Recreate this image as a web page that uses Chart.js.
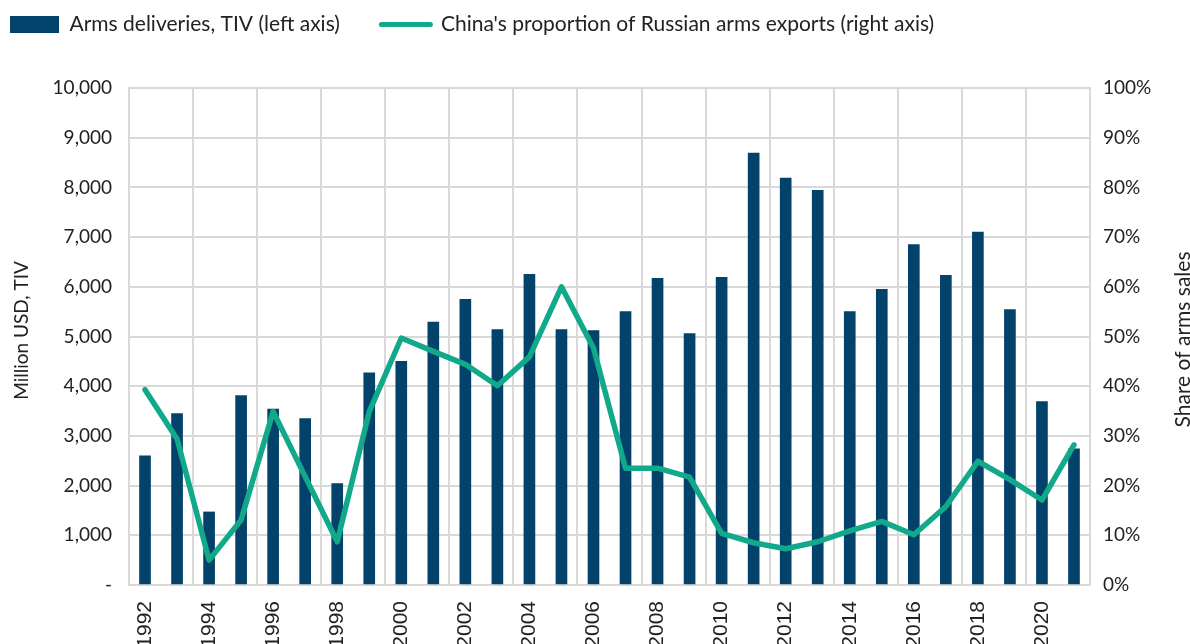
<!DOCTYPE html>
<html>
<head>
<meta charset="utf-8">
<script src="https://cdn.jsdelivr.net/npm/chart.js@4.4.0/dist/chart.umd.min.js"></script>
<style>
  html, body { margin: 0; padding: 0; background: #fff; overflow: hidden; }
  #wrap { position: absolute; left: 0; top: 0; width: 1190px; height: 660px; }
</style>
</head>
<body>
<div id="wrap"><canvas id="c"></canvas></div>
<script>
const YEARS = ['1992','1993','1994','1995','1996','1997','1998','1999','2000','2001','2002','2003','2004','2005','2006','2007','2008','2009','2010','2011','2012','2013','2014','2015','2016','2017','2018','2019','2020','2021'];
const DELIVERIES = [2600,3450,1470,3810,3540,3350,2040,4270,4500,5290,5750,5140,6250,5140,5120,5500,6170,5060,6190,8690,8190,7940,5500,5950,6850,6230,7100,5540,3690,2740];
const CHINA_SHARE = [39.3,29.4,5.0,13.1,34.9,21.8,8.7,34.9,49.7,47.0,44.4,40.1,45.9,60.0,47.7,23.5,23.5,21.7,10.4,8.5,7.3,8.7,10.9,12.8,10.1,15.8,24.9,21.2,17.1,28.2];
const LEGEND_LABELS = ['Arms deliveries, TIV (left axis)', "China's proportion of Russian arms exports (right axis)"];
const LEFT_TITLE = 'Million USD, TIV';
const RIGHT_TITLE = 'Share of arms sales';

const NAVY = '#03426a';
const TEAL = '#12a98b';
const GRID = '#d9d9d9';
const TXT = '#222222';
const SANS = 'Lato';

const titlesPlugin = {
  id: 'titles',
  beforeInit(chart) {
    const lg = chart.legend;
    if (lg) {
      const orig = lg.fit;
      lg.fit = function () { orig.call(this); this.height = 84; };
    }
  },
  afterDraw(chart) {
    const { ctx, chartArea } = chart;
    const midY = (chartArea.top + chartArea.bottom) / 2;
    ctx.save();
    ctx.font = '19px ' + SANS;
    ctx.fillStyle = TXT;
    ctx.textAlign = 'center';
    ctx.textBaseline = 'middle';
    ctx.translate(22, midY - 6);
    ctx.rotate(-Math.PI / 2);
    ctx.fillText(LEFT_TITLE, 0, 0);
    ctx.restore();
    ctx.save();
    ctx.font = '21px ' + SANS;
    ctx.fillStyle = TXT;
    ctx.textAlign = 'center';
    ctx.textBaseline = 'middle';
    ctx.translate(1183, midY + 3);
    ctx.rotate(-Math.PI / 2);
    ctx.fillText(RIGHT_TITLE, 0, 0);
    ctx.restore();
  }
};

function draw() {
  new Chart(document.getElementById('c'), {
    type: 'bar',
    data: {
      labels: YEARS,
      datasets: [
        {
          type: 'bar',
          label: LEGEND_LABELS[0],
          data: DELIVERIES,
          backgroundColor: NAVY,
          barThickness: 11,
          yAxisID: 'y',
          order: 1
        },
        {
          type: 'line',
          label: LEGEND_LABELS[1],
          data: CHINA_SHARE,
          borderColor: TEAL,
          backgroundColor: TEAL,
          borderWidth: 5.5,
          pointRadius: 0,
          tension: 0,
          borderJoinStyle: 'round',
          borderCapStyle: 'round',
          yAxisID: 'y1',
          order: 0
        }
      ]
    },
    options: {
      responsive: true,
      maintainAspectRatio: false,
      animation: false,
      layout: { padding: { top: 4, left: 0, right: 0, bottom: 0 } },
      plugins: {
        tooltip: { enabled: false },
        legend: {
          position: 'top',
          align: 'start',
          labels: {
            usePointStyle: true,
            pointStyleWidth: 49,
            boxHeight: 17,
            padding: 10,
            color: TXT,
            font: { family: SANS, size: 21 },
            generateLabels: () => [
              { text: LEGEND_LABELS[0] + '\u2003\u2003', fillStyle: NAVY, strokeStyle: NAVY, lineWidth: 0, pointStyle: 'rect', datasetIndex: 0, hidden: false, fontColor: TXT },
              { text: LEGEND_LABELS[1], fillStyle: TEAL, strokeStyle: TEAL, lineWidth: 5, lineCap: 'round', pointStyle: 'line', datasetIndex: 1, hidden: false, fontColor: TXT }
            ]
          }
        }
      },
      scales: {
        x: {
          offset: true,
          grid: {
            offset: true,
            drawTicks: false,
            lineWidth: 2,
            color: (c) => (c.type !== 'tick' || c.index % 2 === 0) ? GRID : 'rgba(0,0,0,0)'
          },
          border: { display: true, color: GRID, width: 2 },
          ticks: {
            autoSkip: false,
            minRotation: 90,
            maxRotation: 90,
            padding: 16,
            color: TXT,
            font: { family: 'Liberation Sans', size: 21 },
            callback: function (v, i) { return i % 2 === 0 ? YEARS[i] : ''; }
          },
          afterFit: (s) => { s.height = 660 - 585; }
        },
        y: {
          position: 'left',
          min: 0,
          max: 10000,
          grid: { drawTicks: false, lineWidth: 2, color: GRID },
          border: { display: true, color: GRID, width: 2 },
          ticks: {
            stepSize: 1000,
            padding: 17,
            color: TXT,
            font: { family: SANS, size: 19 },
            callback: (v) => v === 0 ? '-' : v.toLocaleString('en-US')
          },
          afterFit: (s) => { s.width = 129; }
        },
        y1: {
          position: 'right',
          min: 0,
          max: 100,
          grid: { display: false, drawTicks: false },
          border: { display: true, color: GRID, width: 2 },
          ticks: {
            stepSize: 10,
            padding: 13,
            color: TXT,
            font: { family: SANS, size: 19 },
            callback: (v) => v + '%'
          },
          afterFit: (s) => { s.width = 100; }
        }
      }
    },
    plugins: [titlesPlugin]
  });
}

if (document.fonts && document.fonts.load) {
  Promise.all([document.fonts.load('21px Lato'), document.fonts.load('21px "Liberation Sans"')]).then(draw, draw);
} else { draw(); }
</script>
</body>
</html>
